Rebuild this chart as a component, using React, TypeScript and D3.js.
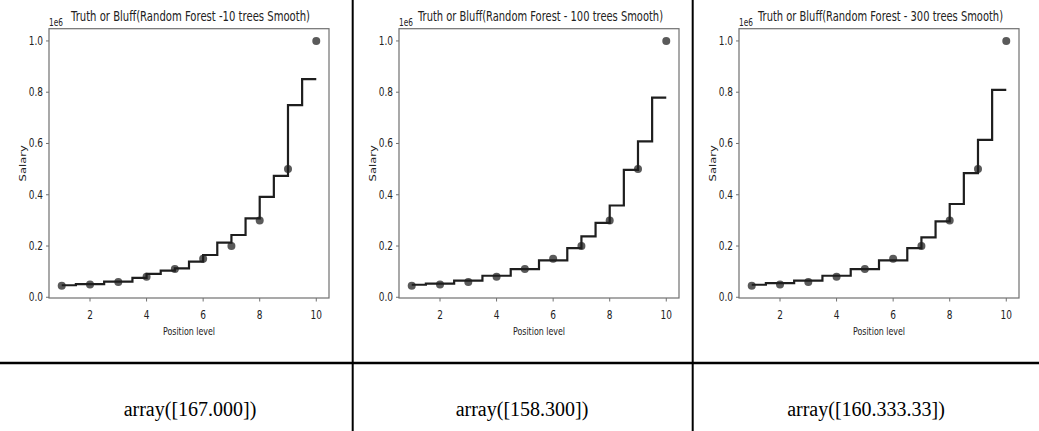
import React from "react";
import * as d3 from "d3";

const positions = [1, 2, 3, 4, 5, 6, 7, 8, 9, 10];
const salaries = [45000, 50000, 60000, 80000, 110000, 150000, 200000, 300000, 500000, 1000000];

const titles = [
  "Truth or Bluff(Random Forest -10 trees Smooth)",
  "Truth or Bluff(Random Forest - 100 trees Smooth)",
  "Truth or Bluff(Random Forest - 300 trees Smooth)",
];
const resultTexts = ["array([167.000])", "array([158.300])", "array([160.333.33])"];

const breaks10 = [1, 1.5, 2.5, 3.5, 4.0, 4.5, 5.0, 5.5, 6.0, 6.5, 7.0, 7.5, 8.0, 8.5, 9.0, 9.5, 10];
const levels10 = [47000, 51000, 61000, 76000, 91000, 104000, 113000, 139000, 165000, 213000, 243000, 308000, 392000, 474000, 750000, 851000];
const breaks100 = [1, 1.5, 2.5, 3.5, 4.5, 5.5, 6.5, 7.0, 7.5, 8.0, 8.5, 9.0, 9.5, 10];
const levels100 = [49000, 53000, 65000, 84000, 110000, 144000, 192000, 238000, 290000, 358000, 497000, 608000, 779000];
const breaks300 = [1, 1.5, 2.5, 3.5, 4.5, 5.5, 6.5, 7.0, 7.5, 8.0, 8.5, 9.0, 9.5, 10];
const levels300 = [49000, 55000, 65000, 84000, 110000, 144000, 192000, 234000, 296000, 364000, 484000, 614000, 809000];

const xTicks = [2, 4, 6, 8, 10];
const yTicks = [0, 200000, 400000, 600000, 800000, 1000000];
const xLabel = "Position level";
const yLabel = "Salary";
const offsetLabel = "1e6";

const W = 1039;
const H = 431;
const FONT = "'DejaVu Sans', sans-serif";
const SX = 0.72;

const panels = [
  { ox: 0, breaks: breaks10, levels: levels10, title: titles[0], titleW: 239, result: resultTexts[0], cx: 190 },
  { ox: 350, breaks: breaks100, levels: levels100, title: titles[1], titleW: 245, result: resultTexts[1], cx: 522 },
  { ox: 690, breaks: breaks300, levels: levels300, title: titles[2], titleW: 245, result: resultTexts[2], cx: 866 },
];

function SText(props: any) {
  const { x, y, sx = SX, anchor = "start", size = 12, rotate, children, baseline, fill = "#222" } = props;
  return (
    <g transform={`translate(${x},${y}) scale(${sx},1)${rotate ? ` rotate(${rotate})` : ""}`}>
      <text textAnchor={anchor} fontSize={size} fontFamily={FONT} fill={fill} dominantBaseline={baseline}>
        {children}
      </text>
    </g>
  );
}

function Panel({ p }: any) {
  const left = p.ox + 49;
  const right = left + 280;
  const top = 28.7;
  const bottom = 298;
  const x = d3.scaleLinear().domain([0.55, 10.45]).range([left, right]);
  const y = d3.scaleLinear().domain([-2750, 1047750]).range([bottom, top]);
  const pts: [number, number][] = p.breaks.map((b: number, i: number) => [b, p.levels[Math.min(i, p.levels.length - 1)]]);
  const line = d3
    .line<[number, number]>()
    .x((d) => x(d[0]))
    .y((d) => y(d[1]))
    .curve(d3.curveStepAfter);
  const axisColor = "#707070";
  return (
    <g>
      {positions.map((px, i) => (
        <circle key={i} cx={x(px)} cy={y(salaries[i])} r={4} fill="#5a5a5a" />
      ))}
      <path d={line(pts) || ""} fill="none" stroke="#1e1e1e" strokeWidth={2.2} />
      <rect x={left} y={top} width={right - left} height={bottom - top} fill="none" stroke={axisColor} strokeWidth={1.2} />
      {yTicks.map((t) => (
        <g key={t}>
          <line x1={left - 3} x2={left} y1={y(t)} y2={y(t)} stroke={axisColor} strokeWidth={1} />
          <SText x={left - 6} y={y(t)} anchor="end" size={12.5} baseline="central">
            {(t / 1e6).toFixed(1)}
          </SText>
        </g>
      ))}
      {xTicks.map((t) => (
        <g key={t}>
          <line x1={x(t)} x2={x(t)} y1={bottom} y2={bottom + 3.5} stroke={axisColor} strokeWidth={1} />
          <SText x={x(t)} y={318.5} anchor="middle" size={12.5}>
            {t}
          </SText>
        </g>
      ))}
      <SText x={left} y={25.5} size={10} sx={0.74}>
        {offsetLabel}
      </SText>
      <text
        x={(left + right) / 2 + 1.5}
        y={21}
        textAnchor="middle"
        fontSize={13.5}
        fontFamily={FONT}
        fill="#222"
        textLength={p.titleW}
        lengthAdjust="spacingAndGlyphs"
      >
        {p.title}
      </text>
      <SText x={(left + right) / 2} y={335} anchor="middle" size={11}>
        {xLabel}
      </SText>
      <SText x={p.ox + 25.5} y={(top + bottom) / 2} anchor="middle" size={11.5} rotate={-90}>
        {yLabel}
      </SText>
      <text x={p.cx} y={416} textAnchor="middle" fontSize={20} fontFamily="'Liberation Serif', 'Times New Roman', serif" fill="#000">
        {p.result}
      </text>
    </g>
  );
}

export default function App() {
  return (
    <svg width={W} height={H} style={{ position: "absolute", left: 0, top: 0, background: "#fff" }}>
      <rect x={0} y={0} width={W} height={H} fill="#fff" />
      {panels.map((p, i) => (
        <Panel key={i} p={p} />
      ))}
      <line x1={352.7} x2={352.7} y1={0} y2={H} stroke="#000" strokeWidth={2} />
      <line x1={692.7} x2={692.7} y1={0} y2={H} stroke="#000" strokeWidth={2} />
      <line x1={0} x2={W} y1={363} y2={363} stroke="#000" strokeWidth={2.5} />
    </svg>
  );
}
